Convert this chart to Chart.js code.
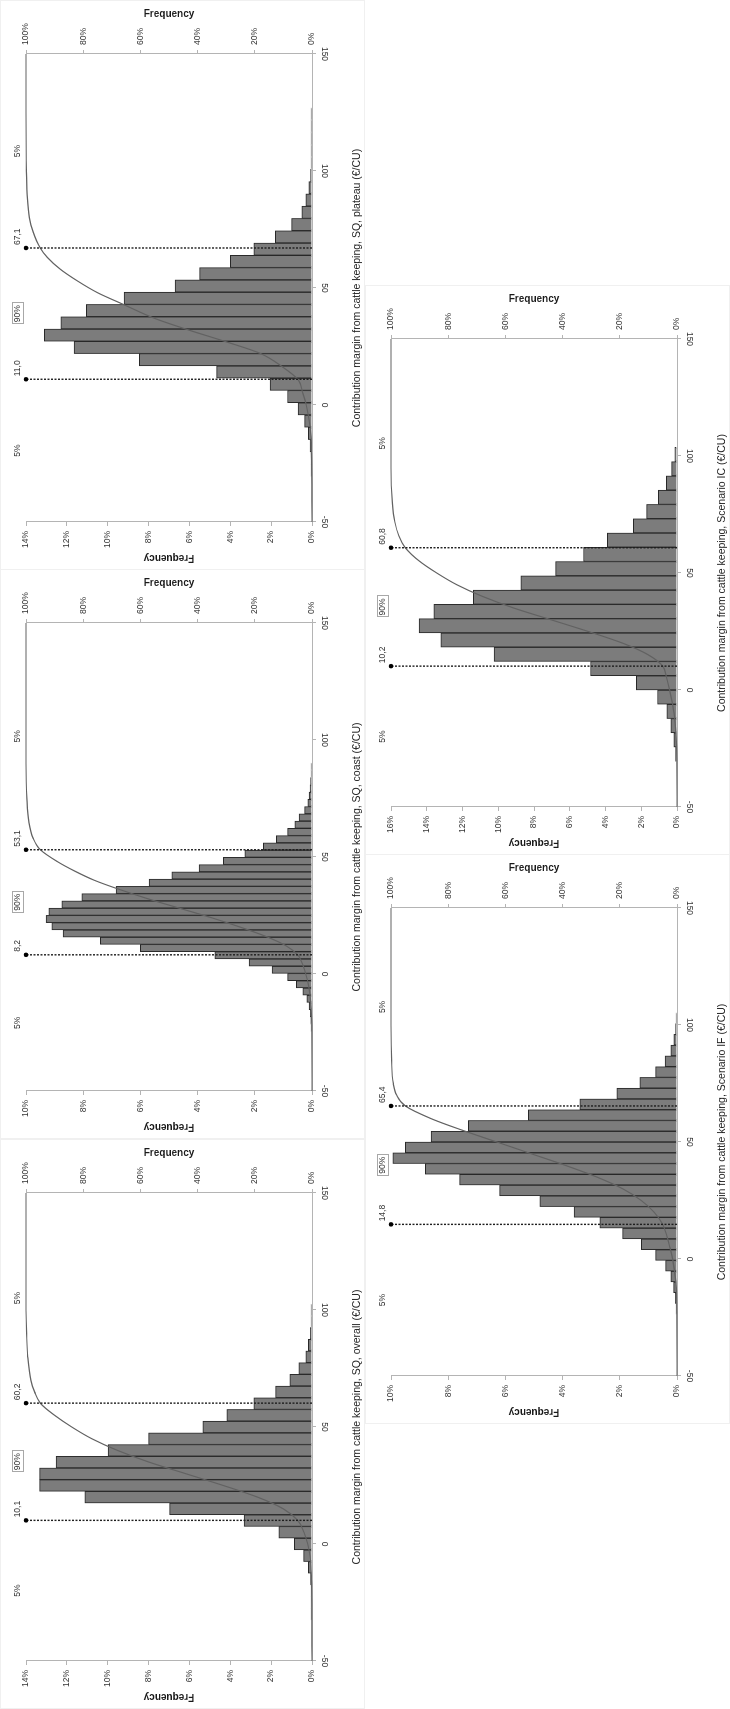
<!DOCTYPE html>
<html>
<head>
<meta charset="utf-8">
<script src="https://cdn.jsdelivr.net/npm/chart.js@4.4.1/dist/chart.umd.min.js"></script>
<style>
  html, body { margin: 0; padding: 0; background: #fff; width: 730px; height: 1709px; overflow: hidden; }
  /* the sheet is laid out landscape and turned a quarter turn counter-clockwise */
  #sheet { position: absolute; left: 0; top: 0; width: 1709px; height: 730px;
           transform-origin: 0 0; transform: translateY(1709px) rotate(-90deg); background: #fff; }
  .panel { position: absolute; width: 570px; height: 365px; }
  .panel canvas { position: absolute; left: 0; top: 0; }
  .panel::after { content: ''; position: absolute; left: 0; top: 0; right: 0; bottom: 0;
                  border: 1px solid #f0f0f0; pointer-events: none; }
</style>
</head>
<body>
<div id="sheet">
  <div class="panel" style="left:0px;top:0px"><canvas id="cOverall" width="570" height="365"></canvas></div>
  <div class="panel" style="left:570px;top:0px"><canvas id="cCoast" width="570" height="365"></canvas></div>
  <div class="panel" style="left:1139px;top:0px"><canvas id="cPlateau" width="570" height="365"></canvas></div>
  <div class="panel" style="left:285px;top:365px"><canvas id="cIF" width="570" height="365"></canvas></div>
  <div class="panel" style="left:854px;top:365px"><canvas id="cIC" width="570" height="365"></canvas></div>
</div>
<script>
// ---- shared tick labels -------------------------------------------------
const valueTicks = [-50, 0, 50, 100, 150];
const bandLabels = ['5%', '90%', '5%'];

// ---- SQ, overall --------------------------------------------------------
const overallBins = [-30, -25, -20, -15, -10, -5, 0, 5, 10, 15, 20, 25, 30, 35, 40, 45, 50, 55, 60, 65, 70, 75, 80, 85, 90, 95, 100];
const overallFreq = [0.01, 0.02, 0.04, 0.07, 0.18, 0.41, 0.87, 1.62, 3.33, 6.97, 11.12, 13.33, 13.33, 12.53, 9.98, 8.0, 5.35, 4.17, 2.85, 1.78, 1.09, 0.64, 0.3, 0.18, 0.08, 0.04, 0.02];
const overallCdfX = [-50, -30, -15, -5, 0, 5, 10.1, 15, 20, 25, 30, 35, 40, 45, 50, 55, 60.2, 65, 70, 80, 90, 100, 150];
const overallCdfY = [0, 0.05, 0.2, 0.7, 1.5, 2.8, 5, 10, 19, 31, 44, 57, 68, 77, 84, 90, 95, 97, 98.3, 99.4, 99.8, 100, 100];
const overallPct = [10.1, 60.2];
const overallFreqMax = 14;
const overallTitle = 'Contribution margin from cattle keeping, SQ, overall (€/CU)';

// ---- SQ, coast ----------------------------------------------------------
const coastBins = [-23.0, -19.9, -16.8, -13.7, -10.6, -7.5, -4.4, -1.3, 1.8, 4.9, 8.0, 11.1, 14.2, 17.3, 20.4, 23.5, 26.6, 29.7, 32.8, 35.9, 39.0, 42.1, 45.2, 48.3, 51.4, 54.5, 57.6, 60.7, 63.8, 66.9, 70.0, 73.1, 76.2, 79.3, 82.4, 85.5, 88.6];
const coastFreq = [0.02, 0.04, 0.06, 0.1, 0.18, 0.32, 0.55, 0.85, 1.4, 2.2, 3.4, 6.0, 7.4, 8.7, 9.1, 9.3, 9.2, 8.75, 8.05, 6.85, 5.7, 4.9, 3.95, 3.1, 2.35, 1.7, 1.25, 0.85, 0.6, 0.45, 0.26, 0.15, 0.1, 0.07, 0.05, 0.03, 0.02];
const coastCdfX = [-50, -25, -15, -5, 0, 5, 8.2, 12, 16, 20, 24, 28, 32, 36, 40, 44, 48, 53.1, 58, 65, 75, 90, 150];
const coastCdfY = [0, 0.05, 0.3, 1.2, 2.2, 3.6, 5, 9, 16, 25, 35, 46, 57, 67, 76, 83, 89, 95, 97.5, 99, 99.7, 100, 100];
const coastPct = [8.2, 53.1];
const coastFreqMax = 10;
const coastTitle = 'Contribution margin from cattle keeping, SQ, coast (€/CU)';

// ---- SQ, plateau --------------------------------------------------------
const plateauBins = [-27.9, -22.65, -17.4, -12.15, -6.9, -1.65, 3.6, 8.85, 14.1, 19.35, 24.6, 29.85, 35.1, 40.35, 45.6, 50.85, 56.1, 61.35, 66.6, 71.85, 77.1, 82.35, 87.6, 92.85, 98.1, 103.35, 108.6, 113.85, 119.1, 124.35];
const plateauFreq = [0.02, 0.04, 0.09, 0.18, 0.36, 0.68, 1.2, 2.05, 4.67, 8.45, 11.65, 13.1, 12.3, 11.05, 9.2, 6.7, 5.5, 4.0, 2.85, 1.8, 1.0, 0.5, 0.3, 0.15, 0.07, 0.04, 0.03, 0.02, 0.02, 0.01];
const plateauCdfX = [-50, -20, -10, 0, 5, 11.0, 16, 22, 27, 32, 37, 43, 48, 53, 58, 63, 67.1, 74, 80, 90, 100, 125, 150];
const plateauCdfY = [0, 0.2, 0.6, 2.0, 3.2, 5, 10, 18, 30, 43, 55, 66, 75, 82, 88, 92.5, 95, 97.5, 98.8, 99.6, 99.9, 100, 100];
const plateauPct = [11.0, 67.1];
const plateauFreqMax = 14;
const plateauTitle = 'Contribution margin from cattle keeping, SQ, plateau (€/CU)';

// ---- Scenario IF --------------------------------------------------------
const ifBins = [-21.3, -16.7, -12.1, -7.5, -2.9, 1.7, 6.3, 10.9, 15.5, 20.1, 24.7, 29.3, 33.9, 38.5, 43.1, 47.7, 52.3, 56.9, 61.5, 66.1, 70.7, 75.3, 79.9, 84.5, 89.1, 93.7, 98.3, 102.9];
const ifFreq = [0.03, 0.06, 0.12, 0.22, 0.4, 0.75, 1.25, 1.9, 2.7, 3.6, 4.8, 6.2, 7.6, 8.8, 9.94, 9.5, 8.6, 7.3, 5.2, 3.4, 2.1, 1.3, 0.75, 0.42, 0.22, 0.11, 0.05, 0.02];
const ifCdfX = [-50, -25, -10, 0, 5, 10, 14.8, 20, 25, 30, 35, 40, 45, 50, 55, 60, 65.4, 70, 75, 85, 100, 150];
const ifCdfY = [0, 0.05, 0.4, 1.5, 2.5, 3.6, 5, 8, 12.5, 19, 28, 39, 51, 63, 75, 86, 95, 98, 99.2, 99.8, 100, 100];
const ifPct = [14.8, 65.4];
const ifFreqMax = 10;
const ifTitle = 'Contribution margin from cattle keeping, Scenario IF (€/CU)';

// ---- Scenario IC --------------------------------------------------------
const icBins = [-27.45, -21.35, -15.25, -9.15, -3.05, 3.05, 9.15, 15.25, 21.35, 27.45, 33.55, 39.65, 45.75, 51.85, 57.95, 64.05, 70.15, 76.25, 82.35, 88.45, 94.55, 100.65];
const icFreq = [0.08, 0.18, 0.34, 0.57, 1.09, 2.28, 4.84, 10.23, 13.21, 14.43, 13.6, 11.4, 8.73, 6.79, 5.23, 3.9, 2.45, 1.7, 1.05, 0.6, 0.3, 0.12];
const icCdfX = [-50, -30, -20, -10, 0, 5, 10.2, 15, 20, 25, 30, 35, 40, 45, 50, 55, 60.8, 66, 72, 80, 95, 150];
const icCdfY = [0, 0.05, 0.3, 1.0, 2.6, 3.6, 5, 10, 19, 31, 44, 57, 68, 77, 84, 90, 95, 97.3, 98.7, 99.5, 100, 100];
const icPct = [10.2, 60.8];
const icFreqMax = 16;
const icTitle = 'Contribution margin from cattle keeping, Scenario IC (€/CU)';

// ---- drawing ------------------------------------------------------------
const FONT = '"Liberation Sans", Arial, Helvetica, sans-serif';
Chart.defaults.font.family = FONT;
Chart.defaults.color = '#333';

const AXIS_GREY = '#b4b4b4';
const pctText = v => v.toFixed(1).replace('.', ',');

// Band labels, percentile values and the value-axis numbers outside the plot
const outsideLabels = {
  id: 'outsideLabels',
  afterDraw(chart, args, opts) {
    const ctx = chart.ctx;
    const xs = chart.scales.x;
    const area = chart.chartArea;
    const [p5, p95] = opts.pct;
    const rowY = area.top - 8.5;
    ctx.save();
    ctx.font = '8.5px ' + FONT;
    ctx.fillStyle = '#333';
    ctx.textBaseline = 'middle';

    const mids = [(xs.min + p5) / 2, (p5 + p95) / 2, (p95 + xs.max) / 2];
    ctx.textAlign = 'center';
    mids.forEach((m, i) => {
      const x = xs.getPixelForValue(m);
      ctx.fillText(bandLabels[i], x, rowY);
      if (i === 1) {
        const w = ctx.measureText(bandLabels[i]).width;
        ctx.strokeStyle = '#a8a8a8';
        ctx.lineWidth = 1;
        ctx.strokeRect(Math.round(x - w / 2 - 2) + 0.5, Math.round(rowY - 6) + 0.5, Math.round(w + 4), 11);
      }
    });

    ctx.textAlign = 'left';
    opts.pct.forEach(p => ctx.fillText(pctText(p), xs.getPixelForValue(p) + 3, rowY));

    ctx.textAlign = 'center';
    valueTicks.forEach(v => {
      ctx.save();
      ctx.translate(xs.getPixelForValue(v), area.bottom + 12.5);
      ctx.rotate(Math.PI);
      ctx.fillText(String(v), 0, 0);
      ctx.restore();
    });
    ctx.restore();
  }
};

function drawPanel(canvasId, bins, freq, cdfX, cdfY, pct, freqMax, xTitle) {
  const bars = bins.map((b, i) => ({ x: b, y: freq[i] }));
  const cdf = cdfX.map((c, i) => ({ x: c, y: cdfY[i] }));
  const markers = pct.map(p => ({
    type: 'line',
    data: [{ x: p, y: 0 }, { x: p, y: freqMax }],
    yAxisID: 'y',
    borderColor: '#1e1e1e',
    borderWidth: 1.4,
    borderDash: [2, 1.5],
    pointRadius: [0, 2.3],
    pointBackgroundColor: '#000',
    pointBorderWidth: 0,
    clip: false,
    order: 1
  }));

  new Chart(document.getElementById(canvasId), {
    type: 'bar',
    data: {
      datasets: [
        {
          type: 'bar',
          data: bars,
          yAxisID: 'y',
          backgroundColor: '#7c7c7c',
          borderColor: '#282828',
          borderWidth: 1,
          barPercentage: 1,
          categoryPercentage: 1,
          minBarLength: 1,
          order: 3
        },
        {
          type: 'line',
          data: cdf,
          yAxisID: 'y2',
          borderColor: '#626262',
          borderWidth: 1.2,
          pointRadius: 0,
          cubicInterpolationMode: 'monotone',
          clip: false,
          order: 2
        },
        ...markers
      ]
    },
    options: {
      responsive: false,
      devicePixelRatio: 1,
      animation: false,
      events: [],
      layout: { padding: { top: 26, left: 0, right: 0, bottom: 0 } },
      plugins: {
        legend: { display: false },
        tooltip: { enabled: false },
        outsideLabels: { pct: pct }
      },
      scales: {
        x: {
          type: 'linear',
          min: -50,
          max: 150,
          offset: false,
          ticks: { display: false, stepSize: 50 },
          grid: { drawOnChartArea: false, drawTicks: true, tickLength: 4, color: AXIS_GREY, offset: false },
          border: { display: true, color: AXIS_GREY, width: 1 },
          title: {
            display: true,
            text: xTitle,
            color: '#222',
            font: { size: 10.5, family: FONT },
            padding: { top: 0, bottom: 1.7 }
          },
          afterFit: s => { s.height = 53; }
        },
        y: {
          position: 'left',
          min: 0,
          max: freqMax,
          ticks: { stepSize: 2, padding: 5, color: '#333', font: { size: 8.5 }, callback: v => v + '%' },
          grid: { drawOnChartArea: false, drawTicks: true, tickLength: 4, color: AXIS_GREY },
          border: { display: true, color: AXIS_GREY, width: 1 },
          title: {
            display: true,
            text: 'Frequency',
            color: '#1a1a1a',
            font: { size: 10, weight: 'bold', family: FONT },
            padding: { top: 6, bottom: 0 }
          },
          afterFit: s => { s.width = 48; }
        },
        y2: {
          position: 'right',
          min: 0,
          max: 100,
          ticks: { stepSize: 20, padding: 5, color: '#333', font: { size: 8.5 }, callback: v => v + '%' },
          grid: { drawOnChartArea: false, drawTicks: true, tickLength: 4, color: AXIS_GREY },
          border: { display: true, color: AXIS_GREY, width: 1 },
          title: {
            display: true,
            text: 'Frequency',
            color: '#1a1a1a',
            font: { size: 10, weight: 'bold', family: FONT },
            padding: { top: 8, bottom: 0 }
          },
          afterFit: s => { s.width = 54; }
        }
      }
    },
    plugins: [outsideLabels]
  });
}

drawPanel('cOverall', overallBins, overallFreq, overallCdfX, overallCdfY, overallPct, overallFreqMax, overallTitle);
drawPanel('cCoast', coastBins, coastFreq, coastCdfX, coastCdfY, coastPct, coastFreqMax, coastTitle);
drawPanel('cPlateau', plateauBins, plateauFreq, plateauCdfX, plateauCdfY, plateauPct, plateauFreqMax, plateauTitle);
drawPanel('cIF', ifBins, ifFreq, ifCdfX, ifCdfY, ifPct, ifFreqMax, ifTitle);
drawPanel('cIC', icBins, icFreq, icCdfX, icCdfY, icPct, icFreqMax, icTitle);
</script>
</body>
</html>
